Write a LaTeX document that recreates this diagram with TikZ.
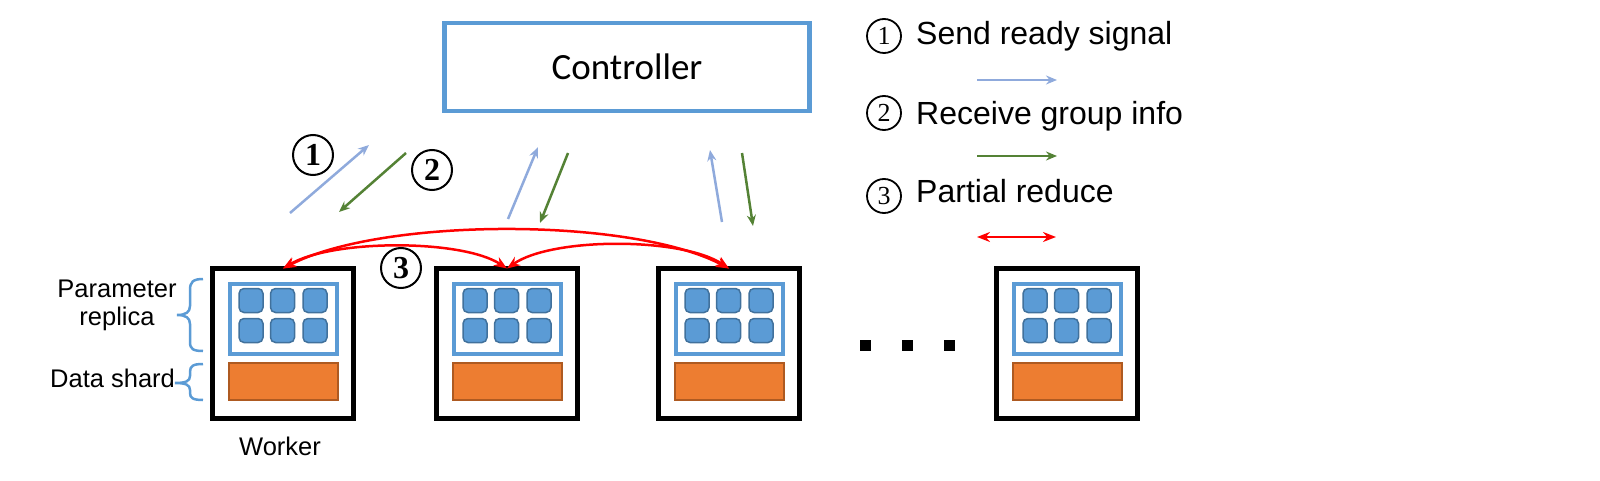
\documentclass[tikz,border=0pt]{standalone}
\usepackage{fontspec}
\setmainfont{Liberation Sans}
\newfontfamily\calib{Carlito}
\newfontfamily\serifnum{Liberation Serif}
\usetikzlibrary{arrows.meta,calc}
\definecolor{cblue}{HTML}{5B9BD5}
\definecolor{cbluedk}{HTML}{41719C}
\definecolor{corange}{HTML}{ED7D31}
\definecolor{corangedk}{HTML}{AE5A21}
\definecolor{lblue}{HTML}{8FAADC}
\definecolor{cgreen}{HTML}{548235}
\tikzset{
  wbox/.style={draw=black, line width=5pt, minimum width=141pt, minimum height=150pt, inner sep=0pt, outer sep=0pt},
  pbox/.style={draw=cblue, line width=4.5pt},
  cell/.style={draw=cbluedk, fill=cblue, line width=1.5pt, rounded corners=5pt},
  dbox/.style={draw=corangedk, fill=corange, line width=1.5pt},
  ctrl/.style={draw=cblue, line width=4.5pt, minimum width=365pt, minimum height=88pt, inner sep=0pt, outer sep=0pt, font=\calib\fontsize{37}{44}\selectfont},
  numc/.style={draw=black, circle, line width=2pt, minimum size=40pt, inner sep=0pt, font=\serifnum\bfseries\fontsize{32}{36}\selectfont},
  legc/.style={draw=black, circle, line width=1.8pt, minimum size=34pt, inner sep=0pt, font=\serifnum\fontsize{26}{28}\selectfont},
  legtxt/.style={anchor=base west, inner sep=0pt, font=\fontsize{32}{38}\selectfont},
  lbl/.style={inner sep=0pt, font=\fontsize{25.5}{30}\selectfont},
  sendarr/.style={draw=lblue, line width=2.5pt, -{Stealth[length=11pt, width=9pt]}},
  recvarr/.style={draw=cgreen, line width=2.5pt, -{Stealth[length=11pt, width=9pt]}},
  redarr/.style={draw=red, line width=2.5pt, {Stealth[length=13pt, width=10pt]}-{Stealth[length=13pt, width=10pt]}},
  bracest/.style={draw=cblue, line width=2.5pt},
  dotsq/.style={fill=black, minimum size=11pt, inner sep=0pt}
}
\newcommand\workerunit[2]{%
  \begin{scope}[shift={(#2,266)}]
    \node[wbox] (#1) at (73,77.5) {};
    \draw[pbox] (20,18) rectangle (127,88);
    \foreach \cx in {41,72.5,105}{\foreach \cy in {34.5,64.5}{
      \draw[cell] (\cx-12,\cy-12) rectangle (\cx+12,\cy+12);}}
    \draw[dbox] (19,97) rectangle (128,134);
  \end{scope}}
\begin{document}
\begin{tikzpicture}[x=1pt,y=-1pt]
\useasboundingbox (0,0) rectangle (1600,481);
% controller
\node[ctrl] (ctrl) at (627,67) {Controller};
% workers
\workerunit{w1}{210}
\workerunit{w2}{434}
\workerunit{w3}{656}
\workerunit{w4}{994}
% dots
\node[dotsq] (d1) at (865,345) {};
\node[dotsq] (d2) at (907,345) {};
\node[dotsq] (d3) at (949,345) {};
% labels
\node[lbl, anchor=base] (par1) at (117,297) {Parameter};
\node[lbl, anchor=base] (par2) at (117,325) {replica};
\node[lbl, anchor=base west] (dsh) at (50,387) {Data shard};
\node[lbl, anchor=base] (wk) at (280,455) {Worker};
% braces
\draw[bracest] (203,279) .. controls (193,279) and (190,282) .. (190,290) -- (190,306)
  .. controls (190,312) and (186,315) .. (177,315)
  .. controls (186,315) and (190,318) .. (190,324) -- (190,342)
  .. controls (190,349) and (193,351) .. (203,351);
\draw[bracest] (203,364) .. controls (193,364) and (190,366) .. (190,372) -- (190,376)
  .. controls (190,381) and (186,383) .. (175,383)
  .. controls (186,383) and (190,385) .. (190,390) -- (190,393)
  .. controls (190,398) and (193,400) .. (203,400);
% send / receive arrows
\coordinate (s1a) at (290,213); \coordinate (s1b) at (369,145);
\coordinate (r1a) at (406,153); \coordinate (r1b) at (339,212);
\coordinate (s2a) at (508,219); \coordinate (s2b) at (538,147);
\coordinate (r2a) at (568,153); \coordinate (r2b) at (540,223);
\coordinate (s3a) at (722,222); \coordinate (s3b) at (710,150);
\coordinate (r3a) at (742,153); \coordinate (r3b) at (753,226);
\draw[sendarr] (s1a) -- (s1b);
\draw[recvarr] (r1a) -- (r1b);
\draw[sendarr] (s2a) -- (s2b);
\draw[recvarr] (r2a) -- (r2b);
\draw[sendarr] (s3a) -- (s3b);
\draw[recvarr] (r3a) -- (r3b);
% partial reduce arcs
\draw[redarr] (w1.north) .. controls (382,217) and (632,217) .. (w3.north);
\draw[redarr] (w1.north) .. controls (332,239) and (462,239) .. (w2.north);
\draw[redarr] (w2.north) .. controls (552,237) and (682,237) .. (w3.north);
% step numbers
\node[numc] (n1) at (313,155) {1};
\node[numc] (n2) at (432,170) {2};
\node[numc] (n3) at (401,268) {3};
% legend
\node[legc] (l1) at (884,36) {1};
\node[legtxt] (t1) at (916,45) {Send ready signal};
\coordinate (la1) at (977,80); \coordinate (lb1) at (1057,80);
\draw[sendarr] (la1) -- (lb1);
\node[legc] (l2) at (884,113) {2};
\node[legtxt] (t2) at (916,125) {Receive group info};
\coordinate (la2) at (977,156); \coordinate (lb2) at (1057,156);
\draw[recvarr] (la2) -- (lb2);
\node[legc] (l3) at (884,196) {3};
\node[legtxt] (t3) at (916,203) {Partial reduce};
\coordinate (la3) at (977,237); \coordinate (lb3) at (1056,237);
\draw[redarr] (la3) -- (lb3);
\end{tikzpicture}
\end{document}
